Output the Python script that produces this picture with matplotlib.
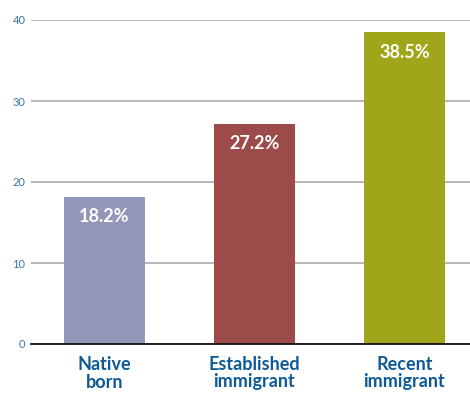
import matplotlib
matplotlib.use("Agg")
import matplotlib.pyplot as plt

categories = ["Native\nborn", "Established\nimmigrant", "Recent\nimmigrant"]
values = [18.2, 27.2, 38.5]
value_labels = ["18.2%", "27.2%", "38.5%"]
colors = ["#9396b8", "#9c4a4a", "#a0a619"]
yticks = [0, 10, 20, 30, 40]

fig = plt.figure(figsize=(4.7, 3.94), dpi=100)
ax = fig.add_axes([31/470, 1-344/394, 1-31/470, (344-20)/394])

x = list(range(len(values)))
bars = ax.bar(x, values, width=0.54, color=colors, zorder=2)
ax.set_xlim(-0.49, 2.437)
ax.set_ylim(0, 40)
ax.set_yticks(yticks)
ax.set_yticklabels([str(t) for t in yticks], color="#3a74a8", fontsize=8, family="Lato")
ax.yaxis.grid(True, color="#aaaaaa", linewidth=1.2, zorder=0)
ax.set_axisbelow(True)
ax.tick_params(axis="y", length=0, pad=4)
ax.tick_params(axis="x", length=0, pad=9)
ax.set_xticks(x)
ax.set_xticklabels(categories, color="#0d5a96", fontsize=13, fontweight="bold",
                   family="Lato", linespacing=1.0)
for s in ["left", "right", "top"]:
    ax.spines[s].set_visible(False)
ax.spines["bottom"].set_color("#111111")
ax.spines["bottom"].set_linewidth(1.3)
ax.spines["bottom"].set_zorder(3)

for xi, v, lab in zip(x, values, value_labels):
    ax.annotate(lab, (xi, v), xytext=(0, -20), textcoords="offset pixels",
                ha="center", va="center",
                color="white", fontsize=13, fontweight="bold", family="Lato")

fig.savefig("out.png", dpi=100)
